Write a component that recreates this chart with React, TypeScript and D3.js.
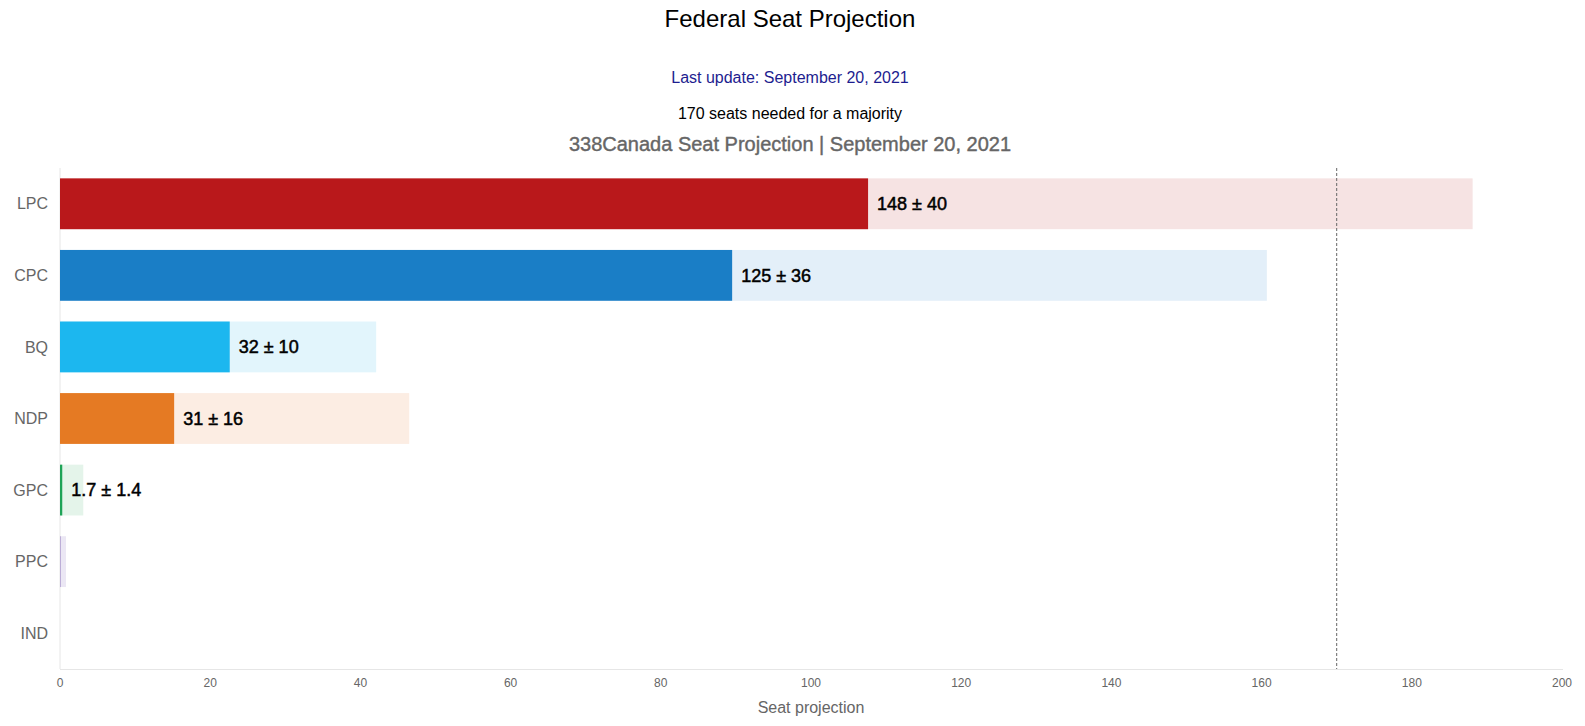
import React from 'react';
import * as d3 from 'd3';

const width = 1585;
const height = 726;

const parties = ['LPC', 'CPC', 'BQ', 'NDP', 'GPC', 'PPC', 'IND'];
// low / high end of the projected range
const lowValues = [107.6, 89.5, 22.6, 15.2, 0.3, 0.05, 0];
const highValues = [188.1, 160.7, 42.1, 46.5, 3.1, 0.8, 0];
const labels = ['148 ± 40', '125 ± 36', '32 ± 10', '31 ± 16', '1.7 ± 1.4', '', ''];
const darkColors = ['#b9181b', '#1a7ec6', '#1cb7ef', '#e57a23', '#1ea357', '#6f4fa6', '#888888'];
const lightColors = ['#f6e3e3', '#e3eff9', '#e2f5fc', '#fcede3', '#e4f4ea', '#ebe7f4', '#eeeeee'];
const xTicks = [0, 20, 40, 60, 80, 100, 120, 140, 160, 180, 200];
const majority = 170;

const font = 'Arial, "Liberation Sans", sans-serif';

const App: React.FC = () => {
  const x = d3.scaleLinear().domain([0, 200]).range([60, 1562]);
  const y = d3
    .scaleBand<string>()
    .domain(parties)
    .range([168, 669])
    .paddingInner(0.29)
    .paddingOuter(0.145);
  const bw = y.bandwidth();
  const plotTop = 168;
  const plotBottom = 669;

  return (
    <svg
      width={width}
      height={height}
      style={{ position: 'absolute', top: 0, left: 0, fontFamily: font }}
    >
      <rect width={width} height={height} fill="#fff" />
      <text x={790} y={27} textAnchor="middle" fontSize={24} fill="#000">
        Federal Seat Projection
      </text>
      <text x={790} y={83} textAnchor="middle" fontSize={16} fill="#1d1d8f">
        Last update: September 20, 2021
      </text>
      <text x={790} y={119} textAnchor="middle" fontSize={16} fill="#000">
        170 seats needed for a majority
      </text>
      <text
        x={790}
        y={151}
        textAnchor="middle"
        fontSize={20}
        fill="#666"
        stroke="#666"
        strokeWidth={0.4}
      >
        338Canada Seat Projection | September 20, 2021
      </text>

      {/* axes */}
      <line x1={60} x2={60} y1={plotTop} y2={plotBottom} stroke="#e6e6e6" />
      <line x1={60} x2={1563} y1={plotBottom + 0.5} y2={plotBottom + 0.5} stroke="#e6e6e6" />

      {parties.map((p, i) => {
        const y0 = y(p) as number;
        return (
          <g key={p}>
            <rect
              x={x(0)}
              y={y0}
              width={Math.max(0, x(highValues[i]) - x(0))}
              height={bw}
              fill={lightColors[i]}
            />
            <rect
              x={x(0)}
              y={y0}
              width={Math.max(0, x(lowValues[i]) - x(0))}
              height={bw}
              fill={darkColors[i]}
            />
            <text
              x={48}
              y={y0 + bw / 2}
              dy="0.35em"
              textAnchor="end"
              fontSize={16}
              fill="#666"
            >
              {p}
            </text>
            {labels[i] && (
              <text
                x={x(lowValues[i]) + 9}
                y={y0 + bw / 2}
                dy="0.35em"
                fontSize={18}
                fill="#000"
                stroke="#000"
                strokeWidth={0.5}
              >
                {labels[i]}
              </text>
            )}
          </g>
        );
      })}

      <line
        x1={x(majority)}
        x2={x(majority)}
        y1={plotTop}
        y2={plotBottom}
        stroke="#666"
        strokeDasharray="3,2"
      />

      {xTicks.map(t => (
        <text key={t} x={x(t)} y={683} dy="0.35em" textAnchor="middle" fontSize={12} fill="#666">
          {t}
        </text>
      ))}
      <text x={811} y={707} dy="0.35em" textAnchor="middle" fontSize={16} fill="#666">
        Seat projection
      </text>
    </svg>
  );
};

export default App;
